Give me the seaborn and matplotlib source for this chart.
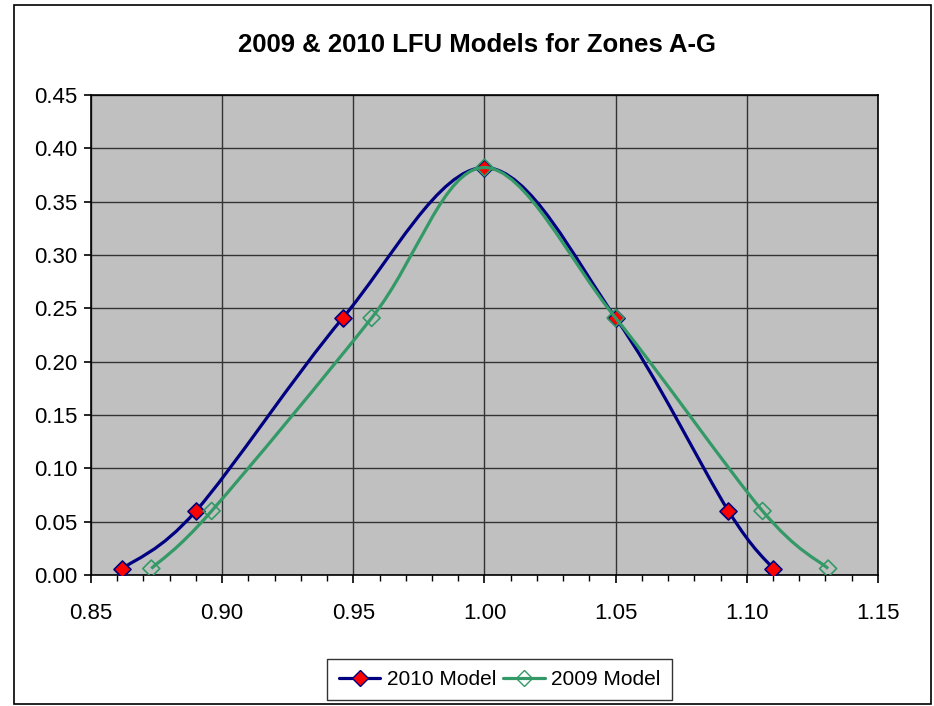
"""Excel-style LFU model curves for zones A-G."""

import matplotlib
matplotlib.use('Agg')
import matplotlib.pyplot as plt
import seaborn as sns
import pandas as pd
import numpy as np
from matplotlib.path import Path
from matplotlib.patches import PathPatch, Rectangle
from matplotlib.lines import Line2D
from matplotlib.ticker import MultipleLocator, FormatStrFormatter

# data
x_2010 = [0.862, 0.890, 0.946, 1.000, 1.050, 1.093, 1.110]
y_2010 = [0.006, 0.060, 0.241, 0.382, 0.241, 0.060, 0.006]
x_2009 = [0.873, 0.896, 0.957, 1.000, 1.050, 1.106, 1.131]
y_2009 = [0.006, 0.060, 0.241, 0.382, 0.241, 0.060, 0.006]
series_names = ['2010 Model', '2009 Model']

NAVY = '#000080'
GREEN = '#339966'


def smooth_path(xs, ys):
    """Bezier path through the points, like Excel's smoothed line."""
    pts = np.column_stack([xs, ys])
    verts = [pts[0]]
    codes = [Path.MOVETO]
    n = len(pts)
    for i in range(n - 1):
        p0 = pts[max(i - 1, 0)]
        p1 = pts[i]
        p2 = pts[i + 1]
        p3 = pts[min(i + 2, n - 1)]
        c1 = p1 + (p2 - p0) / 6.0
        c2 = p2 - (p3 - p1) / 6.0
        verts += [c1, c2, p2]
        codes += [Path.CURVE4] * 3
    return Path(verts, codes)


df = pd.concat([
    pd.DataFrame({'x': x_2010, 'y': y_2010, 'model': series_names[0]}),
    pd.DataFrame({'x': x_2009, 'y': y_2009, 'model': series_names[1]}),
])

sns.set_style('white')
plt.rcParams['font.family'] = ['Liberation Sans', 'DejaVu Sans']
plt.rcParams['text.color'] = 'black'
plt.rcParams['xtick.color'] = 'black'
plt.rcParams['ytick.color'] = 'black'

fig = plt.figure(figsize=(9.34, 7.06), dpi=100)
ax = fig.add_axes([0.0974, 0.1856, 0.8426, 0.6798])
ax.set_facecolor('#C0C0C0')

# outer chart border
fig.patches.append(Rectangle((0.015, 0.003), 0.982, 0.990, transform=fig.transFigure,
                             fill=False, edgecolor='black', linewidth=1.2))

# smooth lines
ax.add_patch(PathPatch(smooth_path(x_2010, y_2010), facecolor='none',
                       edgecolor=NAVY, linewidth=2.3, zorder=3))
ax.add_patch(PathPatch(smooth_path(x_2009, y_2009), facecolor='none',
                       edgecolor=GREEN, linewidth=2.3, zorder=5))

# markers
sns.scatterplot(data=df[df['model'] == series_names[0]], x='x', y='y', marker='D',
                s=75, color='#FF0000', edgecolor=NAVY, linewidth=1.2, zorder=4,
                legend=False, ax=ax)
sns.scatterplot(data=df[df['model'] == series_names[1]], x='x', y='y', marker='D',
                s=75, facecolor='none', edgecolor=GREEN, linewidth=1.2, zorder=6,
                legend=False, ax=ax)

ax.set_xlim(0.85, 1.15)
ax.set_ylim(0.0, 0.45)
ax.xaxis.set_major_locator(MultipleLocator(0.05))
ax.xaxis.set_minor_locator(MultipleLocator(0.01))
ax.yaxis.set_major_locator(MultipleLocator(0.05))
ax.xaxis.set_major_formatter(FormatStrFormatter('%.2f'))
ax.yaxis.set_major_formatter(FormatStrFormatter('%.2f'))

ax.grid(True, which='major', color='#333333', linewidth=1.0)
ax.set_axisbelow(True)
for side in ['top', 'right', 'left', 'bottom']:
    ax.spines[side].set_visible(True)
    ax.spines[side].set_color('black')
    ax.spines[side].set_linewidth(1.2)

ax.tick_params(axis='x', which='major', direction='out', length=6, width=1.2,
               color='black', labelsize=16, pad=14, bottom=True)
ax.tick_params(axis='x', which='minor', direction='out', length=4, width=1.0,
               color='black', bottom=True)
ax.tick_params(axis='y', which='major', direction='out', length=5, width=1.2,
               color='black', labelsize=16, pad=5, left=True)
ax.set_xlabel('')
ax.set_ylabel('')

fig.text(0.511, 0.936, '2009 & 2010 LFU Models for Zones A-G', ha='center', va='center',
         fontsize=18.5, fontweight='bold', color='black')

handles = [
    Line2D([], [], color=NAVY, linewidth=2.3, marker='D', markersize=8,
           markerfacecolor='#FF0000', markeredgecolor=NAVY),
    Line2D([], [], color=GREEN, linewidth=2.3, marker='D', markersize=8,
           markerfacecolor='none', markeredgecolor=GREEN),
]
leg = fig.legend(handles, series_names, loc='center', bbox_to_anchor=(0.535, 0.0375),
                 ncol=2, frameon=True, fancybox=False, fontsize=15, handlelength=2.0,
                 handletextpad=0.3, columnspacing=0.35, borderpad=0.55,
                 borderaxespad=0)
leg.get_frame().set_edgecolor('black')
leg.get_frame().set_linewidth(1.0)

fig.savefig('out.png', dpi=100)
